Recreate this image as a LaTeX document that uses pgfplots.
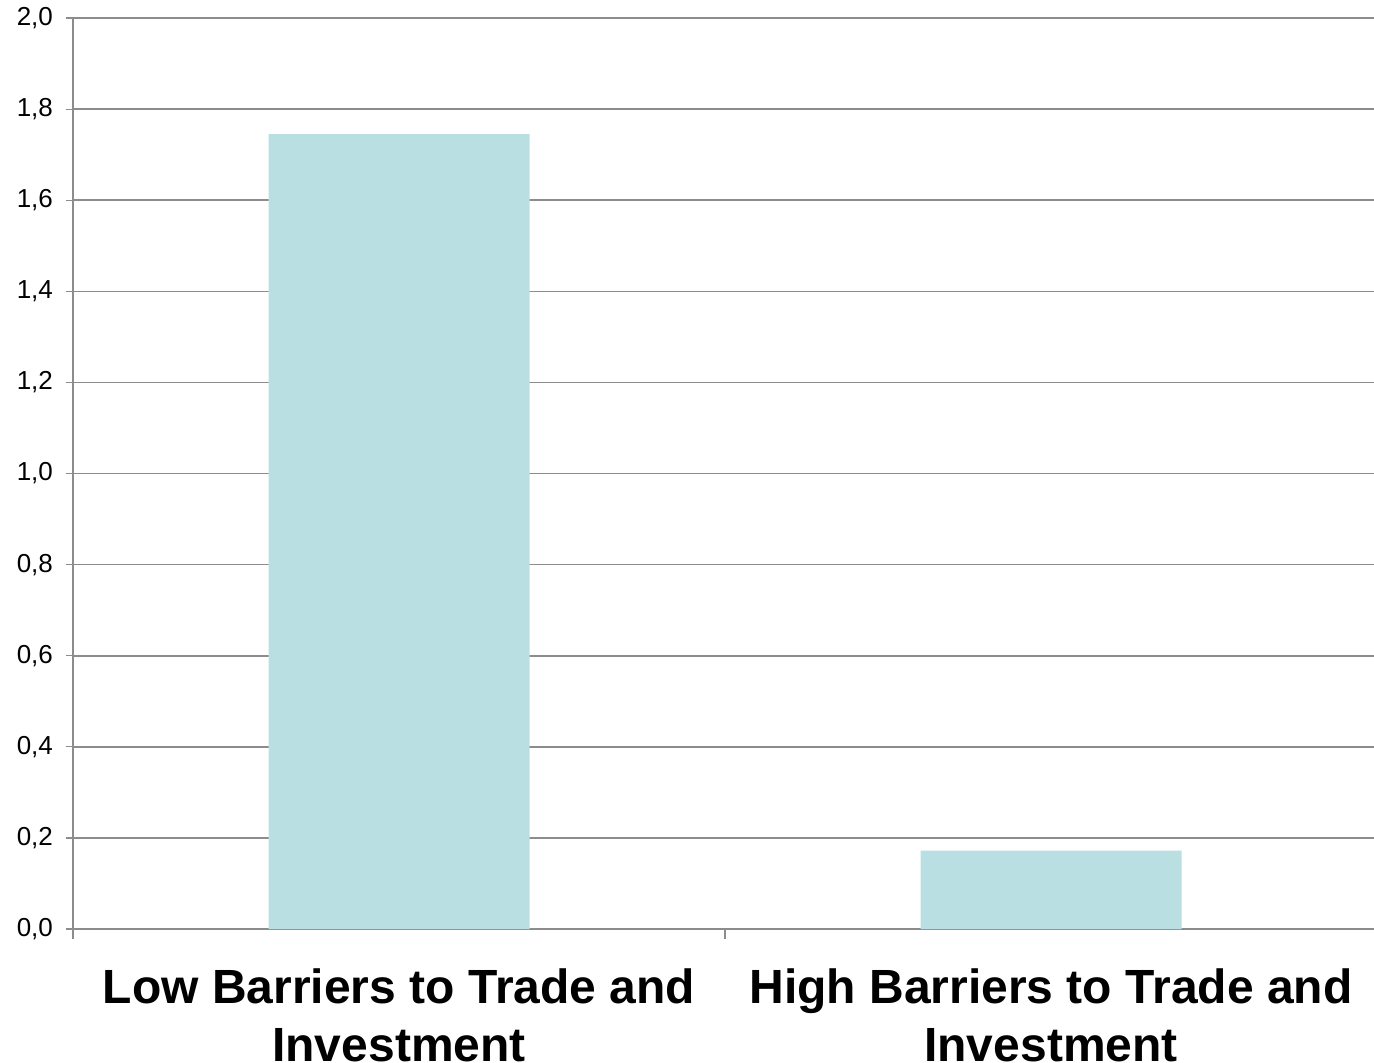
\documentclass[border=0pt]{standalone}
\usepackage{pgfplots}
\pgfplotsset{compat=1.18}
\usepackage{fontspec}
\setmainfont{Liberation Sans}
\definecolor{barc}{HTML}{BADFE2}
\definecolor{gridc}{HTML}{8C8C8C}
\begin{document}
\begin{tikzpicture}
\path[use as bounding box] (-36.5pt,-66.5pt) rectangle (650.5pt,464.5pt);
\begin{axis}[
  at={(0,0)}, anchor=south west,
  scale only axis,
  width=652pt, height=455.5pt,
  xmin=-0.5, xmax=1.5,
  ymin=0, ymax=2,
  ytick={0,0.2,...,2.0},
  xtick={0,1},
  xticklabels={Low Barriers to Trade and\\Investment, High Barriers to Trade and\\Investment},
  minor xtick={-0.5,0.5,1.5},
  major x tick style={draw=none},
  minor tick length=5pt,
  major tick length=3.5pt,
  tick align=outside,
  axis x line*=bottom,
  axis y line*=left,
  axis line style={draw=gridc, line width=0.8pt, -},
  tick style={draw=gridc, line width=0.6pt},
  ymajorgrids,
  grid style={draw=gridc, line width=0.8pt},
  /pgf/number format/.cd, use comma, fixed, fixed zerofill, precision=1, assume math mode=true,
  /pgfplots/.cd,
  yticklabel style={font=\fontsize{13}{15}\selectfont, xshift=-3pt},
  xticklabel style={font=\fontsize{24}{29}\selectfont\bfseries, align=center, yshift=-13pt},
]
\addplot[ybar, bar width=130.5pt, fill=barc, draw=none] coordinates {(0,1.745) (1,0.172)};
\end{axis}
\end{tikzpicture}
\end{document}
